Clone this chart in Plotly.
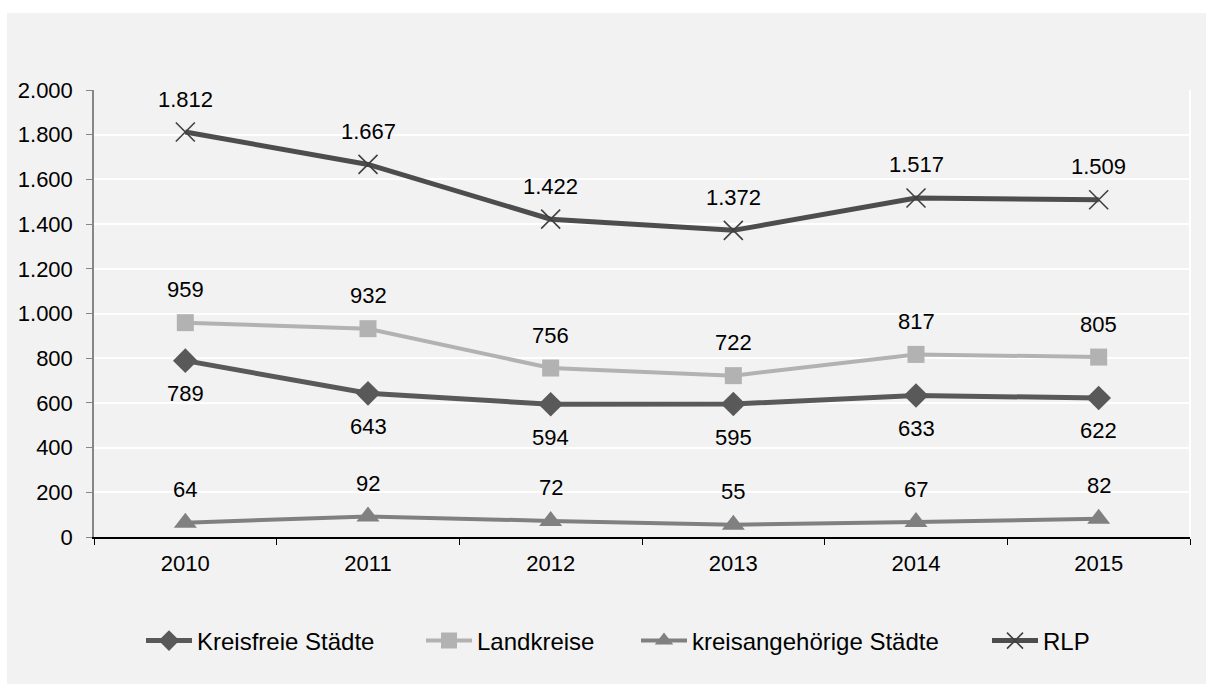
import plotly.graph_objects as go

years = ["2010", "2011", "2012", "2013", "2014", "2015"]

kreisfreie = [789, 643, 594, 595, 633, 622]
landkreise = [959, 932, 756, 722, 817, 805]
kreisangehoerige = [64, 92, 72, 55, 67, 82]
rlp = [1812, 1667, 1422, 1372, 1517, 1509]

y_ticks = [0, 200, 400, 600, 800, 1000, 1200, 1400, 1600, 1800, 2000]

FONT = "Liberation Sans, Arial, sans-serif"
FS = 22
W, H = 1206, 684
ML, MR, MT, MB = 94, 16, 90, 147
PW, PH = W - ML - MR, H - MT - MB


def fmt(v):
    return f"{v:,}".replace(",", ".")


def px_to_paper_x(px):
    return (px - ML) / PW


def px_to_paper_y(py):
    return (H - MB - py) / PH


series = [
    dict(name="Kreisfreie Städte", y=kreisfreie, color="#595959", width=5,
         symbol="diamond", size=19, label="below", legend_px=141),
    dict(name="Landkreise", y=landkreise, color="#b2b2b2", width=4,
         symbol="square", size=17, label="above", legend_px=421),
    dict(name="kreisangehörige Städte", y=kreisangehoerige, color="#808080", width=4,
         symbol="triangle-up", size=20, label="above", legend_px=636),
    dict(name="RLP", y=rlp, color="#4d4d4d", width=5,
         symbol="x-thin", size=19, label="above", legend_px=987),
]

fig = go.Figure()
annotations = []
legends = {}
for k, s in enumerate(series):
    legend_id = "legend" if k == 0 else f"legend{k + 1}"
    legends[legend_id] = dict(
        orientation="h", x=px_to_paper_x(s["legend_px"]), xanchor="left",
        y=px_to_paper_y(641), yanchor="middle",
        font=dict(family=FONT, size=24, color="#000000"),
        itemwidth=46, bgcolor="rgba(0,0,0,0)",
    )
    marker = dict(symbol=s["symbol"], size=s["size"], color=s["color"])
    if s["symbol"] == "x-thin":
        marker["line"] = dict(color="#404040", width=1.6)
    fig.add_trace(go.Scatter(
        x=years, y=s["y"], name=s["name"], mode="lines+markers",
        line=dict(color=s["color"], width=s["width"]),
        marker=marker, legend=legend_id,
    ))
    shift = 33 if s["label"] == "above" else -33
    # value labels placed by category index on the category axis
    for i, yv in enumerate(s["y"]):
        annotations.append(dict(
            x=i, y=yv, xref="x", yref="y", text=fmt(yv), showarrow=False,
            yshift=shift, font=dict(family=FONT, size=FS, color="#000000"),
        ))

# white strips around the grey chart panel, white right border of the plot area
shapes = [
    dict(type="rect", xref="paper", yref="paper",
         x0=px_to_paper_x(0), x1=px_to_paper_x(W),
         y0=px_to_paper_y(13), y1=px_to_paper_y(0),
         fillcolor="#ffffff", line=dict(width=0), layer="below"),
    dict(type="rect", xref="paper", yref="paper",
         x0=px_to_paper_x(0), x1=px_to_paper_x(7),
         y0=px_to_paper_y(H), y1=px_to_paper_y(0),
         fillcolor="#ffffff", line=dict(width=0), layer="below"),
    dict(type="line", xref="paper", yref="paper", x0=1, x1=1, y0=0, y1=1,
         line=dict(color="#ffffff", width=2)),
]

fig.update_layout(
    width=W, height=H,
    margin=dict(l=ML, r=MR, t=MT, b=MB, pad=0),
    paper_bgcolor="#f2f2f2", plot_bgcolor="#f2f2f2",
    font=dict(family=FONT, size=FS, color="#000000"),
    separators=",.",
    showlegend=True,
    annotations=annotations,
    shapes=shapes,
    **legends,
)

fig.update_xaxes(
    type="category", range=[-0.5, 5.5], tickson="boundaries",
    ticks="outside", ticklen=6, tickcolor="#000000", tickwidth=1,
    showline=True, linecolor="#000000", linewidth=1.5,
    showgrid=False, zeroline=False, ticklabelstandoff=6,
    tickfont=dict(family=FONT, size=FS, color="#000000"),
)
fig.update_yaxes(
    range=[0, 2000], tickvals=y_ticks, tickformat=",d",
    ticks="outside", ticklen=6, tickcolor="#868686", tickwidth=1,
    showline=True, linecolor="#868686", linewidth=1.5,
    showgrid=True, gridcolor="#ffffff", gridwidth=2, zeroline=False,
    ticklabelstandoff=9,
    tickfont=dict(family=FONT, size=FS, color="#000000"),
)

fig.write_html("out.html")
